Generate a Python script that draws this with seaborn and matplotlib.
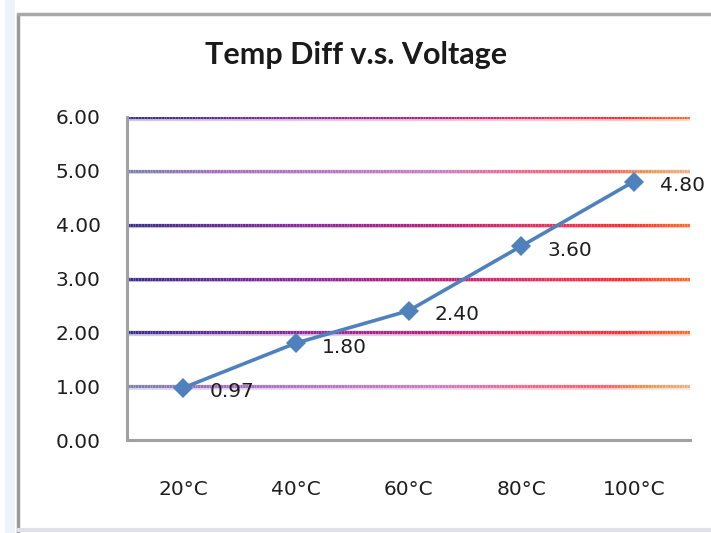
import numpy as np
import pandas as pd
import matplotlib
matplotlib.use("Agg")
import matplotlib.pyplot as plt
import matplotlib.transforms as mtransforms
import seaborn as sns
from matplotlib.collections import LineCollection
from matplotlib.colors import LinearSegmentedColormap
from matplotlib.patches import Rectangle

categories = ["20°C", "40°C", "60°C", "80°C", "100°C"]
values = [0.97, 1.80, 2.40, 3.60, 4.80]
value_labels = ["0.97", "1.80", "2.40", "3.60", "4.80"]
y_ticks = [0, 1, 2, 3, 4, 5, 6]
y_tick_labels = ["0.00", "1.00", "2.00", "3.00", "4.00", "5.00", "6.00"]
title = "Temp Diff v.s. Voltage"

sns.set_theme(style="white")
plt.rcParams["font.family"] = ["DejaVu Sans"]

fig = plt.figure(figsize=(7.11, 5.33), dpi=100)
ax = fig.add_axes([127/711, (533-440)/533, (690-127)/711, (440-117)/533])

# chart frame
fig.patches.append(Rectangle((5/711, 0), 10/711, 1, transform=fig.transFigure,
                             facecolor="#eef2fa", edgecolor="none", zorder=0))
fig.lines.append(plt.Line2D([17.5/711, 17.5/711], [0, (533-14)/533], transform=fig.transFigure,
                            color="#9a9a9a", lw=2.5))
fig.lines.append(plt.Line2D([17.5/711, 1], [(533-14)/533, (533-14)/533], transform=fig.transFigure,
                            color="#a8a8a8", lw=2.5))
fig.lines.append(plt.Line2D([17.5/711, 1], [3/533, 3/533], transform=fig.transFigure,
                            color="#dde1ea", lw=3))

df = pd.DataFrame({"temp": categories, "v": values})

# gradient gridlines
dark = LinearSegmentedColormap.from_list("dark", [
    (0.0, "#3b2e8e"), (0.3, "#8a2a9e"), (0.55, "#b8207a"),
    (0.75, "#e8305a"), (0.88, "#ff2a30"), (1.0, "#ff7030")])
light = LinearSegmentedColormap.from_list("light", [
    (0.0, "#7585a8"), (0.15, "#a070c0"), (0.55, "#c880c0"),
    (0.65, "#e070a0"), (0.85, "#f86068"), (0.92, "#e09a58"), (1.0, "#f0b090")])
styles = {6: dark, 5: light, 4: dark, 3: dark, 2: dark, 1: light}
n = 200
xs = np.linspace(0, 1, n + 1)
trans = ax.get_yaxis_transform()
shadow_trans = mtransforms.offset_copy(trans, fig=fig, y=-1.9, units="points")
for yv, cmap in styles.items():
    segs = [[(xs[i], yv), (xs[i + 1], yv)] for i in range(n)]
    cols = cmap(xs[:-1])
    sh = LineCollection(segs, colors=cols, linewidths=1.6, alpha=0.25,
                        transform=shadow_trans, zorder=1)
    ax.add_collection(sh)
    lc = LineCollection(segs, colors=cols, linewidths=2.3, transform=trans, zorder=1.5)
    ax.add_collection(lc)

sns.lineplot(data=df, x="temp", y="v", ax=ax, color="#4f81bd", lw=2.6,
             marker="D", markersize=10, markeredgewidth=0, sort=False, zorder=3)

for i, (v, lab) in enumerate(zip(values, value_labels)):
    ax.annotate(lab, (i, v), xytext=(19, -3), textcoords="offset points",
                ha="left", va="center", fontsize=14.5, color="#1e1e1e")

ax.set_xlim(-0.5, 4.5)
ax.set_ylim(0, 6)
ax.set_yticks(y_ticks)
ax.set_yticklabels(y_tick_labels)
ax.set_xticks(range(len(categories)))
ax.set_xticklabels(categories)
ax.set_xticks(np.arange(-0.5, 5, 1.0), minor=True)
ax.tick_params(axis="x", which="major", length=0, pad=29, labelsize=14.5, labelcolor="#1e1e1e")
ax.tick_params(axis="x", which="minor", length=5, width=1.5, color="#9a9a9a", direction="out")
ax.tick_params(axis="y", length=5, width=1.5, color="#9a9a9a", direction="out", pad=14,
               labelsize=14.5, labelcolor="#1e1e1e")
ax.set_xlabel("")
ax.set_ylabel("")
for s in ["top", "right"]:
    ax.spines[s].set_visible(False)
for s in ["left", "bottom"]:
    ax.spines[s].set_color("#a0a0a0")
    ax.spines[s].set_linewidth(2.2)

fig.text(356/711, (533-55)/533, title, ha="center", va="center", fontsize=22,
         fontweight="bold", color="#1a1a1a", family=["Lato", "DejaVu Sans"])

fig.savefig("out.png", dpi=100)
